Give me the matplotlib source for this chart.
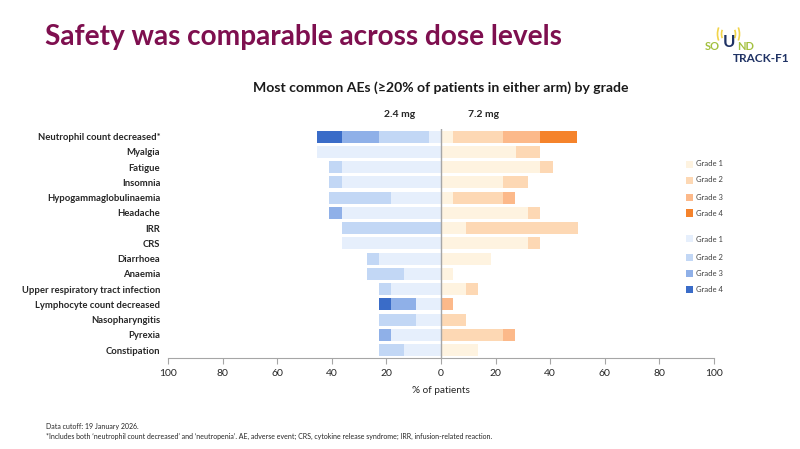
import numpy as np
import matplotlib
matplotlib.use("Agg")
from matplotlib import pyplot as plt
from matplotlib.patches import Rectangle, Arc

plt.rcParams['font.family'] = ['Lato', 'DejaVu Sans']

# 数据 (% of patients)
categories = ["Neutrophil count decreased*", "Myalgia", "Fatigue", "Insomnia",
              "Hypogammaglobulinaemia", "Headache", "IRR", "CRS", "Diarrhoea",
              "Anaemia", "Upper respiratory tract infection",
              "Lymphocyte count decreased", "Nasopharyngitis", "Pyrexia",
              "Constipation"]

# 2.4 mg
low_g1 = [4.5, 45.5, 36.4, 36.4, 18.2, 36.4, 0, 36.4, 22.7, 13.6, 18.2, 9.1, 9.1, 18.2, 13.6]
low_g2 = [18.2, 0, 4.5, 4.5, 22.7, 0, 36.4, 0, 4.5, 13.6, 4.5, 0, 13.6, 0, 9.1]
low_g3 = [13.6, 0, 0, 0, 0, 4.5, 0, 0, 0, 0, 0, 9.1, 0, 4.5, 0]
low_g4 = [9.1, 0, 0, 0, 0, 0, 0, 0, 0, 0, 0, 4.5, 0, 0, 0]

# 7.2 mg
high_g1 = [4.5, 27.3, 36.4, 22.7, 4.5, 31.8, 9.1, 31.8, 18.2, 4.5, 9.1, 0, 0, 0, 13.6]
high_g2 = [18.2, 9.1, 4.5, 9.1, 18.2, 4.5, 40.9, 4.5, 0, 0, 4.5, 0, 9.1, 22.7, 0]
high_g3 = [13.6, 0, 0, 0, 4.5, 0, 0, 0, 0, 0, 0, 4.5, 0, 4.5, 0]
high_g4 = [13.6, 0, 0, 0, 0, 0, 0, 0, 0, 0, 0, 0, 0, 0, 0]

ticks = [-100, -80, -60, -40, -20, 0, 20, 40, 60, 80, 100]
tick_labels = [str(abs(t)) for t in ticks]
grades = ["Grade 1", "Grade 2", "Grade 3", "Grade 4"]

blue = ["#e6effc", "#c2d7f5", "#8fb0e8", "#3a6cc8"]
orange = ["#fef3e0", "#fdd8b4", "#fcb98a", "#f5832b"]

fig = plt.figure(figsize=(8, 4.49), dpi=100)
ax = fig.add_axes([0.21, 0.2033, 0.6825, 0.5092])

y = np.arange(len(categories))
h = 0.78

# 左侧 2.4 mg
cum = np.zeros(len(categories))
for vals, c in zip([low_g1, low_g2, low_g3, low_g4], blue):
    vals = np.array(vals)
    ax.barh(y, -vals, left=-cum, height=h, color=c, linewidth=0)
    cum += vals

# 右侧 7.2 mg
cum = np.zeros(len(categories))
for vals, c in zip([high_g1, high_g2, high_g3, high_g4], orange):
    vals = np.array(vals)
    ax.barh(y, vals, left=cum, height=h, color=c, linewidth=0)
    cum += vals

ax.axvline(0, color="#a6a6a6", lw=1)
ax.set_xlim(-100, 100)
ax.set_ylim(len(categories) - 0.5, -0.5)
ax.set_yticks(y)
ax.set_yticklabels(categories, fontsize=6.8, fontweight="bold", color="#262626")
ax.tick_params(axis="y", length=0, pad=5.5)
ax.set_xticks(ticks)
ax.set_xticklabels(tick_labels, fontsize=7.5, color="#262626")
ax.tick_params(axis="x", length=4, color="#a6a6a6", pad=4)
for s in ["top", "right", "left"]:
    ax.spines[s].set_visible(False)
ax.spines["bottom"].set_color("#a6a6a6")
ax.set_xlabel("% of patients", fontsize=7.2, color="#262626", labelpad=6)

# 标题
fig.text(0.056, 0.918, "Safety was comparable across dose levels", fontsize=20.2,
         fontweight="bold", color="#7e0f4f", va="center", ha="left")
fig.text(0.551, 0.804, "Most common AEs (\u226520% of patients in either arm) by grade",
         fontsize=10.1, fontweight="bold", color="#1a1a1a", ha="center", va="center")
fig.text(0.5, 0.746, "2.4 mg", fontsize=7.5, fontweight="bold", color="#262626",
         ha="center", va="center")
fig.text(0.604, 0.746, "7.2 mg", fontsize=7.5, fontweight="bold", color="#262626",
         ha="center", va="center")

# 图例
leg_y = [164, 180, 197, 213, 239, 257, 273, 289]
leg_c = orange + blue
for py, c, g in zip(leg_y, leg_c, grades + grades):
    fig.patches.append(Rectangle((686 / 800, 1 - (py + 3.5) / 449), 6.5 / 800, 7 / 449,
                                 transform=fig.transFigure, color=c, lw=0))
    fig.text(696 / 800, 1 - py / 449, g, fontsize=5.5, color="#404040", va="center")

# 脚注
fig.text(0.057, 1 - 426.5 / 449, "Data cutoff: 19 January 2026.", fontsize=5.05,
         color="#262626", va="center")
fig.text(0.057, 1 - 436 / 449,
         "*Includes both \u2018neutrophil count decreased\u2019 and \u2018neutropenia\u2019. "
         "AE, adverse event; CRS, cytokine release syndrome; IRR, infusion-related reaction.",
         fontsize=5.05, color="#262626", va="center")

# logo
fig.text(720 / 800, 1 - 46 / 449, "SO", fontsize=8, color="#a3c03e", va="center",
         ha="right", fontweight="bold")
fig.text(728.5 / 800, 1 - 42 / 449, "U", fontsize=12, color="#1f3264", va="center",
         ha="center", fontweight="bold")
fig.text(737 / 800, 1 - 46 / 449, "ND", fontsize=8, color="#a3c03e", va="center",
         fontweight="bold")
fig.text(733 / 800, 1 - 58 / 449, "TRACK-F1", fontsize=8.5, color="#1f3264", va="center",
         fontweight="bold")
for r in [14, 22]:
    fig.patches.append(Arc((728.5 / 800, 1 - 34 / 449), r / 800, r * 1.3 / 449, theta1=-50,
                           theta2=50, transform=fig.transFigure, color="#f2d44a", lw=1.2))
    fig.patches.append(Arc((728.5 / 800, 1 - 34 / 449), r / 800, r * 1.3 / 449, theta1=130,
                           theta2=230, transform=fig.transFigure, color="#f2d44a", lw=1.2))

plt.savefig("out.png", dpi=100)
